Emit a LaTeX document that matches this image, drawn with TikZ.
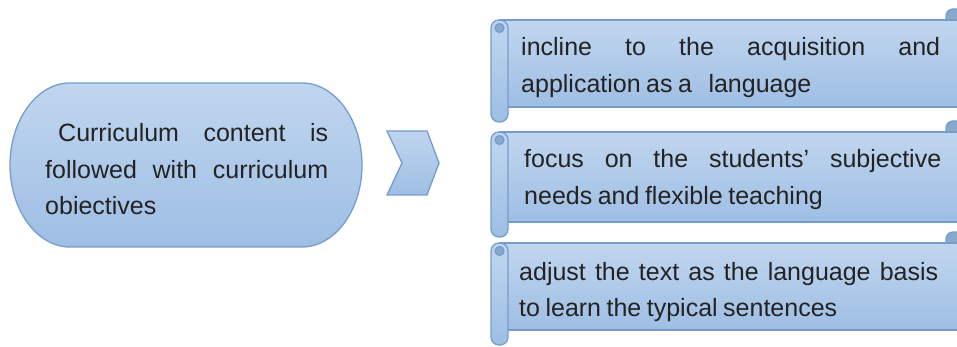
\documentclass[tikz,border=0pt]{standalone}
\usepackage{fontspec}
\setmainfont{Liberation Sans}
\definecolor{fillTop}{RGB}{192,214,239}
\definecolor{fillBot}{RGB}{158,190,228}
\definecolor{edge}{RGB}{118,156,204}
\definecolor{rolldark}{RGB}{136,168,206}
\definecolor{txt}{RGB}{35,35,35}
\tikzset{
  shapefill/.style={draw=edge, line width=1.3pt, top color=fillTop, bottom color=fillBot},
  rollback/.style={draw=edge, line width=1.3pt, fill=rolldark},
  txtnode/.style={anchor=base west, inner sep=0pt, text=txt, font=\fontsize{25}{36.5}\selectfont}
}
\newcommand{\scrollshape}[2]{%
  \path[rollback, rounded corners=7pt] (946,#1-11) rectangle (990,#2-20);
  \path[shapefill] (500,#1) rectangle (990,#2);
  \path[shapefill, rounded corners=8pt] (491,#1) rectangle (508,#2+15);
  \path[draw=edge, line width=1.2pt, fill=rolldark] (499.5,#1+8) circle[radius=4.5];
}
\newcommand{\nohyph}{\hyphenpenalty=10000 \exhyphenpenalty=10000 \spaceskip=0.22em plus 2em minus 0.05em }
\begin{document}
\begin{tikzpicture}[x=1pt, y=-1pt]
\useasboundingbox (0,0) rectangle (957,347);
\clip (0,0) rectangle (957,347);
% left rounded box
\path[shapefill] (70,83) -- (302,83) .. controls (335,83) and (362,120) .. (362,165)
  .. controls (362,210) and (335,247) .. (302,247) -- (70,247)
  .. controls (37,247) and (10,210) .. (10,165)
  .. controls (10,120) and (37,83) .. (70,83) -- cycle;
\node[txtnode] (c) at (45,142) {\parbox[t]{283pt}{\nohyph\hspace*{13pt}Curriculum content is\linebreak followed with curriculum\linebreak obiectives}};
% chevron
\path[shapefill] (387,131) -- (427,131) -- (439,163) -- (427,195) -- (387,195) -- (402,163) -- cycle;
% scrolls
\scrollshape{20}{107}
\scrollshape{132}{222}
\scrollshape{243}{330}
\node[txtnode] (a) at (521,56) {\parbox[t]{419pt}{\nohyph incline to the acquisition and\linebreak application as a\ \ \ language}};
\node[txtnode] (b) at (524,168) {\parbox[t]{417pt}{\nohyph focus on the students’ subjective\linebreak needs and flexible teaching}};
\node[txtnode] (d) at (519,280) {\parbox[t]{419pt}{\nohyph adjust the text as the language basis\linebreak to learn the typical sentences}};
\end{tikzpicture}
\end{document}
